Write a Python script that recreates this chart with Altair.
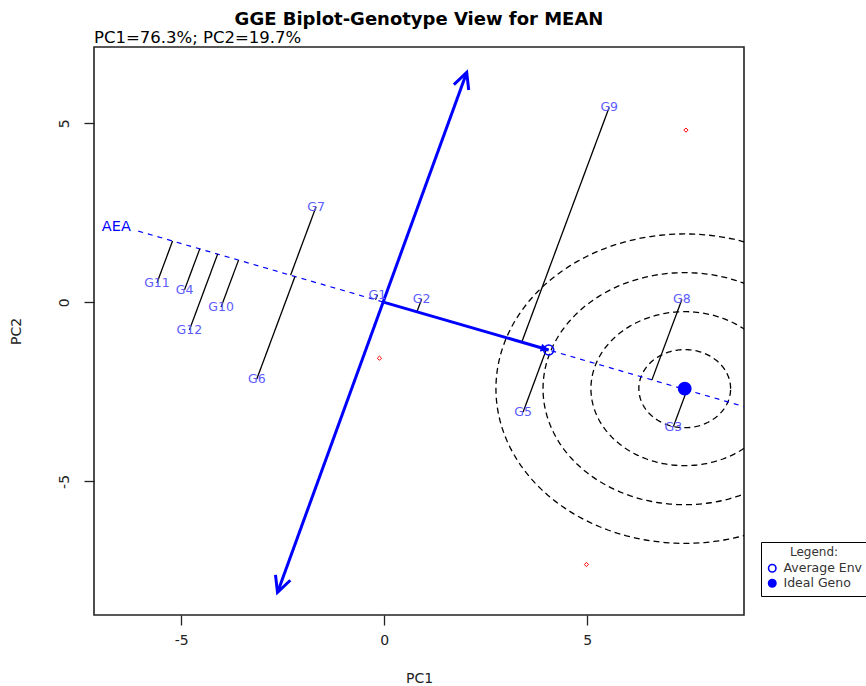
import math
import altair as alt
import numpy as np
import pandas as pd

# ---------------- data ----------------
geno_names = ["G1", "G2", "G3", "G4", "G5", "G6", "G7", "G8", "G9", "G10", "G11", "G12"]
geno_pc1 = [-0.17, 0.92, 7.12, -4.92, 3.42, -3.14, -1.68, 7.33, 5.54, -4.02, -5.60, -4.80]
geno_pc2 = [0.21, 0.09, -3.47, 0.35, -3.06, -2.14, 2.67, 0.08, 5.45, -0.13, 0.54, -0.77]

env_pc1 = [7.43, -0.12, 4.98]
env_pc2 = [4.81, -1.56, -7.32]

avg_env_pc1 = [4.05]
avg_env_pc2 = [-1.33]
ideal_pc1 = [7.40]
ideal_pc2 = [-2.41]

circle_rx = [1.13, 2.31, 3.49, 4.65]
circle_ry = [1.09, 2.15, 3.24, 4.32]

axis_pc1 = [-2.63, 2.03]      # perpendicular (ATC) axis ends
axis_pc2 = [-8.10, 6.42]
aea_start_pc1 = -6.06
aea_end_pc1 = 9.8
aea_label_pc1 = [-6.60]
aea_label_pc2 = [2.11]

x_ticks = [-5, 0, 5]
y_ticks = [-5, 0, 5]
x_domain = [-7.15, 8.86]
y_domain = [-8.73, 7.13]

title_text = "GGE Biplot-Genotype View for MEAN"
subtitle_text = "PC1=76.3%; PC2=19.7%"
legend_kinds = ["Average Env", "Ideal Geno"]

# ---------------- layout ----------------
W, H = 650, 568
sx = W / (x_domain[1] - x_domain[0])
sy = H / (y_domain[1] - y_domain[0])
FONT = "DejaVu Sans"
BLUE = "#0000ff"
LABEL_BLUE = "#5c5cff"

# AEA direction
ax_, ay_ = avg_env_pc1[0], avg_env_pc2[0]
norm = math.hypot(ax_, ay_)
dx, dy = ax_ / norm, ay_ / norm

# genotype -> projection segments
seg_rows = []
for n, gx, gy in zip(geno_names, geno_pc1, geno_pc2):
    t = gx * dx + gy * dy
    seg_rows.append({"seg": n, "i": 0, "x": gx, "y": gy})
    seg_rows.append({"seg": n, "i": 1, "x": t * dx, "y": t * dy})
seg_df = pd.DataFrame(seg_rows)

# AEA dashed line
t0 = aea_start_pc1 / dx
t1 = aea_end_pc1 / dx
aea_df = pd.DataFrame({"x": [t0 * dx, t1 * dx], "y": [t0 * dy, t1 * dy], "i": [0, 1]})

# concentric circles around the ideal genotype
theta = np.linspace(0, 2 * np.pi, 241)
circ_rows = []
for k, (rx, ry) in enumerate(zip(circle_rx, circle_ry)):
    for j, th in enumerate(theta):
        circ_rows.append({"c": k, "i": j,
                          "x": ideal_pc1[0] + rx * math.cos(th),
                          "y": ideal_pc2[0] + ry * math.sin(th)})
circ_df = pd.DataFrame(circ_rows)

# origin -> average environment arrow
main_df = pd.DataFrame({"x": [0.0, ax_], "y": [0.0, ay_], "i": [0, 1]})
axis_df = pd.DataFrame({"x": axis_pc1, "y": axis_pc2, "i": [0, 1]})


def screen_angle(x0, y0, x1, y1):
    return math.degrees(math.atan2(-(y1 - y0) * sy, (x1 - x0) * sx)) % 360


open_heads = pd.DataFrame({
    "x": [axis_pc1[1], axis_pc1[0]],
    "y": [axis_pc2[1], axis_pc2[0]],
    "ang": [screen_angle(axis_pc1[0], axis_pc2[0], axis_pc1[1], axis_pc2[1]),
            screen_angle(axis_pc1[1], axis_pc2[1], axis_pc1[0], axis_pc2[0])],
})
main_head = pd.DataFrame({"x": [ax_], "y": [ay_], "ang": [screen_angle(0, 0, ax_, ay_)]})

geno_df = pd.DataFrame({"name": geno_names, "x": geno_pc1, "y": geno_pc2})
env_df = pd.DataFrame({"x": env_pc1, "y": env_pc2})
avg_df = pd.DataFrame({"x": avg_env_pc1, "y": avg_env_pc2, "kind": [legend_kinds[0]]})
ideal_df = pd.DataFrame({"x": ideal_pc1, "y": ideal_pc2, "kind": [legend_kinds[1]]})
aea_lab_df = pd.DataFrame({"x": aea_label_pc1, "y": aea_label_pc2, "t": ["AEA"]})


def X():
    return alt.X("x:Q", scale=alt.Scale(domain=x_domain, nice=False, zero=False),
                 axis=alt.Axis(values=x_ticks, title="PC1", tickSize=10, labelPadding=8,
                               titlePadding=24, labelExpr="'' + datum.value"))


def Y():
    return alt.Y("y:Q", scale=alt.Scale(domain=y_domain, nice=False, zero=False),
                 axis=alt.Axis(values=y_ticks, title="PC2", tickSize=10, labelAngle=270,
                               labelAlign="center", labelBaseline="bottom", labelPadding=13,
                               titlePadding=34, labelExpr="'' + datum.value"))


circles = alt.Chart(circ_df).mark_line(color="black", strokeWidth=1.3, strokeDash=[6, 4],
                                       clip=True).encode(
    x=X(), y=Y(), detail="c:N", order="i:Q")

aea = alt.Chart(aea_df).mark_line(color=BLUE, strokeWidth=1.2, strokeDash=[5, 5],
                                  clip=True).encode(x=X(), y=Y(), order="i:Q")

segs = alt.Chart(seg_df).mark_line(color="black", strokeWidth=1.3).encode(
    x=X(), y=Y(), detail="seg:N", order="i:Q")

main_line = alt.Chart(main_df).mark_line(color=BLUE, strokeWidth=3).encode(
    x=X(), y=Y(), order="i:Q")

axis_line = alt.Chart(axis_df).mark_line(color=BLUE, strokeWidth=3).encode(
    x=X(), y=Y(), order="i:Q")

heads = alt.Chart(open_heads).mark_point(
    shape="M-1,-0.5L0,0L-1,0.5", filled=False, size=1000, stroke=BLUE, strokeWidth=3,
    opacity=1).encode(x=X(), y=Y(), angle=alt.Angle("ang:Q", scale=None))

mhead = alt.Chart(main_head).mark_point(
    shape="M0,0L-1,-0.5L-1,0.5Z", filled=True, size=260, color=BLUE, opacity=1).encode(
    x=X(), y=Y(), angle=alt.Angle("ang:Q", scale=None))

envs = alt.Chart(env_df).mark_point(shape="diamond", size=18, filled=False, color="red",
                                    strokeWidth=1, opacity=1).encode(x=X(), y=Y())

labels = alt.Chart(geno_df).mark_text(font=FONT, fontSize=12.5, color=LABEL_BLUE,
                                      align="center", baseline="middle").encode(
    x=X(), y=Y(), text="name:N")

aea_lab = alt.Chart(aea_lab_df).mark_text(font=FONT, fontSize=14.5, color=BLUE,
                                          align="center", baseline="middle").encode(
    x=X(), y=Y(), text="t:N")

leg = alt.Legend(title="Legend:", orient="none", legendX=667, legendY=495, padding=5,
                 strokeColor="black", fillColor="white", titleFont=FONT, titleFontSize=12,
                 titleFontWeight="normal", titleAnchor="middle", titleColor="#333",
                 labelFont=FONT, labelFontSize=12.5, labelColor="#333", symbolSize=55,
                 symbolStrokeWidth=1.6, rowPadding=0, titlePadding=3, labelOffset=5)

fill_enc = alt.Fill("kind:N", scale=alt.Scale(domain=legend_kinds, range=["transparent", BLUE]),
                    legend=leg)
stroke_enc = alt.Stroke("kind:N", scale=alt.Scale(domain=legend_kinds, range=[BLUE, BLUE]),
                        legend=leg)

avg_pt = alt.Chart(avg_df).mark_point(shape="circle", size=100, strokeWidth=1.6,
                                      filled=True, opacity=1).encode(
    x=X(), y=Y(), fill=fill_enc, stroke=stroke_enc)

ideal_pt = alt.Chart(ideal_df).mark_point(shape="circle", size=150, strokeWidth=1.6,
                                          filled=True, opacity=1).encode(
    x=X(), y=Y(), fill=fill_enc, stroke=stroke_enc)

ttl = alt.Chart(pd.DataFrame({"t": [title_text]})).mark_text(
    font=FONT, fontSize=18, fontWeight="bold", color="black", align="center",
    baseline="middle").encode(text="t:N", x=alt.value(W / 2), y=alt.value(-27))

sub = alt.Chart(pd.DataFrame({"t": [subtitle_text]})).mark_text(
    font=FONT, fontSize=16.5, color="black", align="left",
    baseline="alphabetic").encode(text="t:N", x=alt.value(0), y=alt.value(-4))

chart = alt.layer(
    circles, aea, segs, main_line, axis_line, heads, mhead, envs, labels, aea_lab,
    avg_pt, ideal_pt, ttl, sub
).properties(
    width=W, height=H,
    padding={"left": 94, "top": 47, "right": 866 - 94 - W, "bottom": 686 - 47 - H},
    autosize=alt.AutoSizeParams(type="none"),
    background="white",
).configure_view(
    stroke="#222", strokeWidth=1.6
).configure_axis(
    grid=False, domain=False, tickColor="#222", tickWidth=1.3,
    labelFont=FONT, labelFontSize=14, labelColor="#222",
    titleFont=FONT, titleFontSize=14, titleFontWeight="normal", titleColor="#222",
)

chart.save("out.html", embed_options={"renderer": "svg", "actions": False})
